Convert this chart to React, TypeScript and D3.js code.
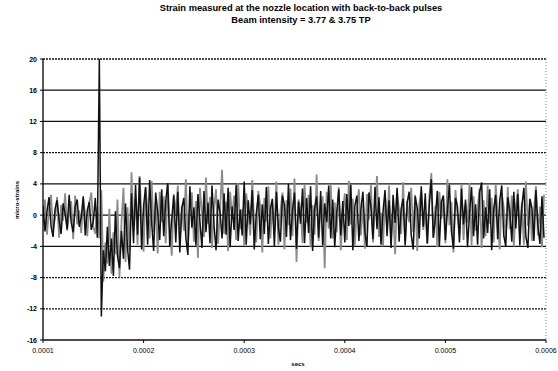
import * as d3 from "d3";

const TITLE = ["Strain measured at the nozzle location with back-to-back pulses", "Beam intensity = 3.77 & 3.75 TP"];
const Y_TICKS = [20, 16, 12, 8, 4, 0, -4, -8, -12, -16];
const X_TICKS = [0.0001, 0.0002, 0.0003, 0.0004, 0.0005, 0.0006];
const T_START = 0.0001;
const T_STEP = 0.000002;

// black trace (micro-strains)
const blackTrace = [
  1.2, -2.1, 0.5, 2.3, -1.4, -2.8, 0.8, 1.9, -0.6, -2.4,
  1.5, 0.2, -1.8, 2.6, -0.9, -2.2, 1.1, 2.0, -1.5, -0.3,
  2.4, -2.6, 0.6, 1.7, -1.9, -0.8, 2.2, -2.9,
  20, -13,
  -4.5, -7.2, -1.5, -6.5, -3.0, -7.8, 0.5, -5.2, -6.8, -2.0,
  -5.6, 1.5, -4.2, -7.0, 2.8, -3.6,
  3.9, -2.5, 4.8, -4.4,
  1.2, 3.6, -3.8, 4.5, -1.0, -4.6, 2.9, 0.4, -3.2, 3.3,
  -2.7, 1.8, 4.1, -4.0, -0.5, 2.5, -3.5, 3.0, -4.8, 0.9,
  2.2, -2.9, -5.1, 3.7, -1.6, 1.0, -3.9, 2.7, -0.8, -4.2,
  3.1, -2.2, 1.6, -3.6, 3.8, -1.3, -4.5, 2.0, 0.3, -3.0,
  2.8, -2.5, 3.5, -4.1, 1.1, -1.9, 3.9, -3.3, 0.7, -2.6,
  4.3, -3.8, 1.9, -1.2, 3.2, -4.4, 0.2, 2.6, -3.1, 1.4,
  -2.4, 3.6, -3.7, 0.8, 2.1, -4.0, 3.0, -1.7, -3.4, 2.5,
  1.3, -2.8, 4.0, -3.2, 0.6, 2.9, -4.3, 1.7, -1.1, 3.4,
  -3.6, 2.2, -2.3, 3.7, -4.6, 0.9, 2.4, -2.9, 3.1, -3.9,
  1.5, -0.9, 3.8, -3.0, 2.0, -4.1, 0.4, 3.3, -2.6, 1.8,
  -3.5, 2.7, -1.4, 3.9, -4.5, 1.2, 2.5, -3.3, 0.7, 3.0,
  -2.2, -4.0, 2.9, 1.0, -3.1, 3.6, -1.8, 2.3, -3.8, 0.5,
  3.2, -2.7, 1.9, -4.2, 2.6, -1.0, 3.5, -3.4, 0.8, 2.1,
  -3.9, 1.6, 3.0, -2.5, -4.4, 2.4, 0.9, -3.0, 3.7, -1.5,
  2.8, -3.6, 1.3, 4.6, -2.9, -0.4, 3.1, -4.0, 1.7, 2.5,
  -3.2, 0.6, 3.9, -2.1, -4.3, 2.2, 1.1, -3.5, 3.4, -1.2,
  2.0, -4.1, 0.3, 3.6, -2.7, 1.4, -3.8, 2.9, 4.2, -3.0,
  1.0, -2.3, 3.3, -4.5, 0.8, 2.6, -3.1, 1.9, 3.8, -2.6,
  -4.0, 2.3, 0.5, -3.4, 3.0, -1.7, 2.7, -3.9, 1.2, 3.5,
  -2.8, -4.2, 2.1, 0.9, -3.3, 3.2, -1.5, -3.7, 2.4, -2.9,
];

// grey trace (second pulse)
const greyTrace = [
  -1.0, 2.0, -2.5, 0.9, 2.6, -1.8, -0.4, 2.3, -2.9, 1.3,
  -0.7, 2.8, -2.0, 0.2, 1.8, -3.1, 2.5, -1.2, 0.6, -2.3,
  2.1, 0.0, -2.7, 1.5, 2.9, -1.5, -2.4, 1.0,
  -3.0, 3.2,
  -8.5, -3.5, -6.2, 0.8, -7.5, -2.2, -5.0, 2.0, -8.0, -1.0,
  3.5, -6.0, 1.0, -4.5, 5.5, -2.0,
  2.2, -3.8, 5.0, -0.6,
  -4.7, 3.4, 0.5, -3.0, 4.4, -2.2, 1.6, -4.9, 3.0, -0.9,
  2.4, -3.6, 4.0, -1.5, -5.2, 2.7, 0.1, 3.8, -3.1, 1.2,
  -2.0, 4.6, -4.0, 0.9, 2.9, -3.4, 1.8, -5.5, 3.5, 0.2,
  -2.8, 4.8, -1.1, 2.3, -4.2, 1.0, 3.3, -3.7, 0.6, 5.8,
  -2.4, 1.7, -4.6, 3.0, -0.3, 2.5, -3.2, 4.1, -1.8, 0.8,
  -3.9, 2.8, 0.3, -2.6, 4.5, -1.4, -3.5, 3.1, 1.2, -4.8,
  2.2, -0.8, 3.7, -3.0, 1.5, -2.1, 4.3, -3.8, 0.4, 2.9,
  -4.4, 1.9, -1.3, 3.4, -2.7, 4.7, -6.0, 2.0, 0.7, -3.6,
  3.9, -1.0, 2.6, -4.1, 1.3, -2.5, 5.2, -3.3, 0.9, 2.4,
  -6.8, 3.0, -1.7, 4.0, -3.0, 1.6, -2.2, 3.6, -4.5, 0.5,
  2.8, -3.2, 4.4, -1.2, 2.1, -3.9, 0.8, 3.3, -2.6, 1.4,
  -4.3, 2.7, -0.6, 3.9, -3.5, 1.1, 5.0, -2.8, 0.3, -4.0,
  2.5, -1.6, 3.8, -3.1, 1.0, -5.0, 2.9, 0.6, -2.4, 4.2,
  -3.4, 1.8, -0.9, 3.5, -2.2, 2.6, -4.6, 1.4, 3.1, -1.9,
  0.4, -3.7, 2.3, 5.4, -2.9, 1.2, -4.1, 3.0, -0.5, 2.0,
  -3.6, 4.6, -1.3, 1.7, -4.8, 3.2, 0.1, -2.5, 3.9, -3.2,
  1.5, -1.0, 4.1, -3.9, 2.4, -2.0, 0.7, 3.4, -4.2, 1.9,
  -2.7, 3.8, -1.1, 2.2, -3.5, 4.0, -0.4, -4.4, 2.8, 1.0,
  -3.1, 3.6, -1.8, 2.5, -4.0, 0.9, 3.3, -2.3, 1.6, -3.8,
  4.3, -1.4, 2.0, -3.3, 0.6, 3.7, -2.6, 1.1, -4.1, 2.6,
];

const W = 558;
const H = 371;
const margin = { top: 59, right: 12, bottom: 31, left: 43 };
const DOTTED = new Set([20, 8, -8, -12]);
const FONT = "'Liberation Sans', Arial, sans-serif";

export default function App() {
  const x = d3.scaleLinear().domain([0.0001, 0.0006]).range([margin.left, W - margin.right]);
  const y = d3.scaleLinear().domain([-16, 20]).range([H - margin.bottom, margin.top]);

  const line = d3.line<number>()
    .x((_, i) => x(T_START + i * T_STEP))
    .y((d) => y(d));

  const fmtX = (v: number) => v.toFixed(4);

  return (
    <svg width={W} height={H} style={{ position: "absolute", left: 0, top: 0, background: "#fff" }} fontFamily={FONT}>
      <defs>
        <clipPath id="plot">
          <rect x={margin.left} y={margin.top} width={W - margin.left - margin.right} height={H - margin.top - margin.bottom} />
        </clipPath>
      </defs>

      {/* Title */}
      <text x={301} y={11} textAnchor="middle" fontSize={9.3} fontWeight="bold">{TITLE[0]}</text>
      <text x={301} y={23} textAnchor="middle" fontSize={9.3} fontWeight="bold">{TITLE[1]}</text>

      {/* Grid */}
      {Y_TICKS.map((t) => (
        <line key={t} x1={margin.left} x2={W - margin.right} y1={y(t)} y2={y(t)}
          stroke="#111" strokeWidth={1.3} strokeDasharray={DOTTED.has(t) ? "2 1" : undefined} />
      ))}
      <line x1={W - margin.right} x2={W - margin.right} y1={margin.top} y2={H - margin.bottom}
        stroke="#888" strokeDasharray="1 2" />

      {/* Traces */}
      <g clipPath="url(#plot)">
        <path d={line(greyTrace) ?? ""} fill="none" stroke="#8c8c8c" strokeWidth={1.8} />
        <path d={line(blackTrace) ?? ""} fill="none" stroke="#111" strokeWidth={1.5} />
      </g>

      {/* Axes */}
      <line x1={margin.left} x2={margin.left} y1={margin.top} y2={H - margin.bottom} stroke="#000" strokeWidth={1.3} />
      {Y_TICKS.map((t) => (
        <g key={t}>
          <line x1={margin.left - 3} x2={margin.left} y1={y(t)} y2={y(t)} stroke="#000" />
          <text x={margin.left - 6} y={y(t) + 2.5} textAnchor="end" fontSize={7} fontWeight="bold">{t}</text>
        </g>
      ))}
      {X_TICKS.map((t) => (
        <g key={t}>
          <line x1={x(t)} x2={x(t)} y1={H - margin.bottom} y2={H - margin.bottom + 3} stroke="#000" />
          <text x={x(t)} y={H - margin.bottom + 13} textAnchor="middle" fontSize={7}>{fmtX(t)}</text>
        </g>
      ))}

      {/* Axis titles */}
      <text x={298} y={366} textAnchor="middle" fontSize={6} fontWeight="bold">secs</text>
      <text transform="translate(19,200) rotate(-90)" textAnchor="middle" fontSize={6} fontWeight="bold">micro-strains</text>
    </svg>
  );
}
